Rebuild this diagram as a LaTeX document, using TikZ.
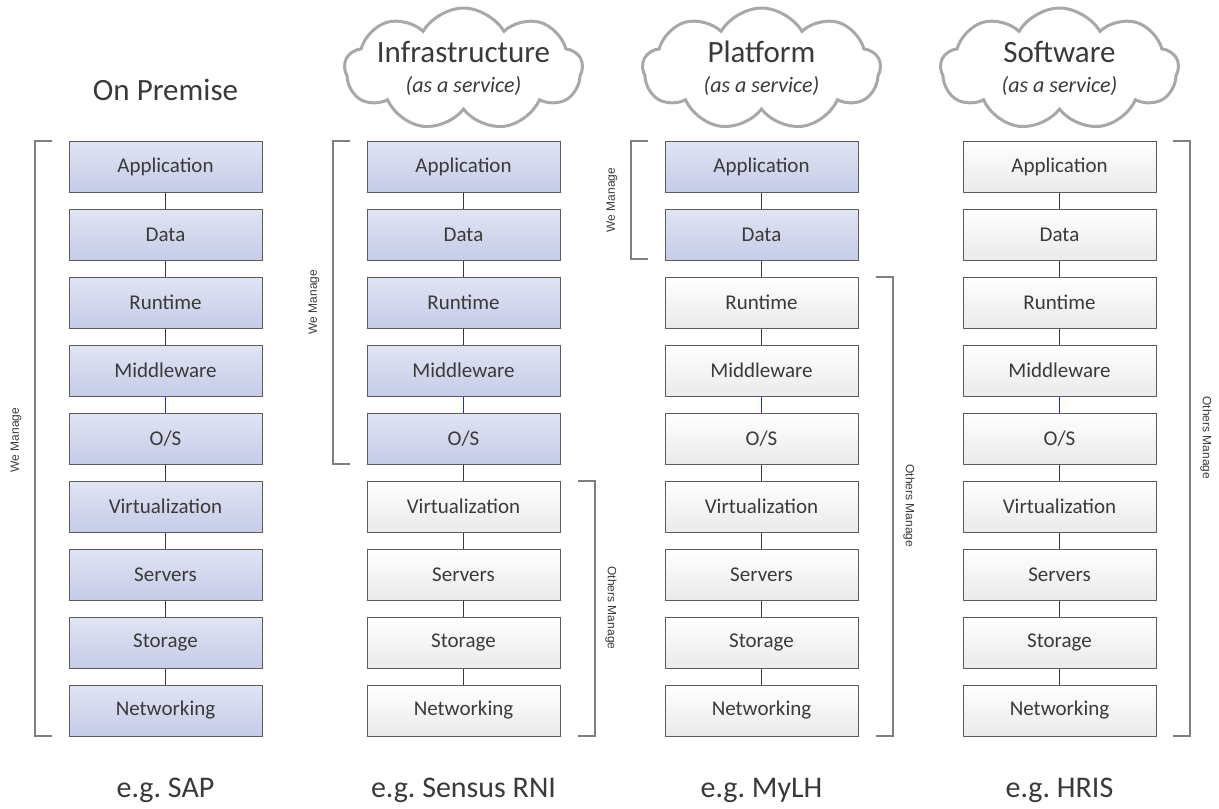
\documentclass[tikz,border=0pt]{standalone}
\usepackage{fontspec}
\setmainfont{Carlito}
\newfontfamily\labelfont{Liberation Sans}
\usetikzlibrary{shapes.symbols,shadows}
\frenchspacing
\definecolor{txt}{HTML}{3A3A3A}
\definecolor{edge}{HTML}{5C5C5C}
\definecolor{bluetop}{HTML}{E0E4F3}
\definecolor{bluebot}{HTML}{C6CCE8}
\definecolor{greytop}{HTML}{FFFFFF}
\definecolor{greybot}{HTML}{EAEAEA}
\definecolor{cloudline}{HTML}{A8A8A8}
\definecolor{bracketline}{HTML}{7F7F7F}
\definecolor{osline}{HTML}{1F2BD6}
\tikzset{
  layer/.style={draw=edge, line width=1pt, minimum width=193pt, minimum height=51pt,
    inner sep=0pt, text=txt, font=\fontsize{21}{24}\selectfont,
    drop shadow={shadow xshift=1.2pt, shadow yshift=-1.2pt, fill=black, opacity=0.25}},
  bluebox/.style={layer, top color=bluetop, bottom color=bluebot},
  whitebox/.style={layer, top color=greytop, bottom color=greybot},
  conn/.style={draw=txt, line width=1pt},
  osconn/.style={draw=osline, line width=1pt},
  bracket/.style={draw=bracketline, line width=1.4pt},
  sidelabel/.style={text=txt, font=\labelfont\fontsize{12}{14}\selectfont, inner sep=0pt},
  heading/.style={text=txt, font=\fontsize{31}{34}\selectfont, inner sep=0pt},
  subheading/.style={text=txt, font=\fontsize{22}{25}\selectfont\itshape, inner sep=0pt},
  example/.style={text=txt, font=\fontsize{30}{33}\selectfont, inner sep=0pt},
  cloudbox/.style={cloud, cloud puffs=9, cloud puff arc=120, aspect=2,
    draw=cloudline, line width=3pt, fill=white, minimum width=238pt, minimum height=122pt}
}
\begin{document}
\begin{tikzpicture}[x=1pt,y=-1pt]
\useasboundingbox[fill=white] (0,0) rectangle (1219,809);

% headings
\node[heading] (h1) at (165.5,90) {On Premise};
\foreach \n/\cx/\title in {2/463.5/Infrastructure, 3/761.5/Platform, 4/1059.5/Software} {
  \node[cloudbox] (cl\n) at (\cx,69) {};
  \node[heading] (h\n) at (\cx,52) {\title};
  \node[subheading] (s\n) at (\cx,86) {(as a service)};
}

% stacks of layers: columns a-d, the first \nb layers of each are managed in-house
\foreach \c/\cx/\nb in {a/165.5/9, b/463.5/5, c/761.5/2, d/1059.5/0} {
  \foreach \t [count=\i] in {Application,Data,Runtime,Middleware,O/S,Virtualization,Servers,Storage,Networking} {
    \ifnum\i>\nb \tikzset{cur/.style=whitebox}\else\tikzset{cur/.style=bluebox}\fi
    \node[cur] (\c\i) at (\cx,{166.5+68*(\i-1)}) {\t};
  }
  \foreach \i in {1,...,8} {
    \pgfmathtruncatemacro\j{\i+1}
    \ifnum\i=4 \tikzset{curc/.style=osconn}\else\tikzset{curc/.style=conn}\fi
    \draw[curc] (\c\i) -- (\c\j);
  }
}

% management brackets
\draw[bracket] (52,141) -- (35,141) -- (35,736) -- (52,736);
\node[sidelabel, rotate=90] (wa) at (16,440) {We Manage};

\draw[bracket] (350,141) -- (333,141) -- (333,464) -- (350,464);
\node[sidelabel, rotate=90] (wb) at (314,302) {We Manage};
\draw[bracket] (578,481) -- (595,481) -- (595,736) -- (578,736);
\node[sidelabel, rotate=-90] (ob) at (611,608) {Others Manage};

\draw[bracket] (648,141) -- (631,141) -- (631,259) -- (648,259);
\node[sidelabel, rotate=90] (wc) at (612,200) {We Manage};
\draw[bracket] (876,277) -- (893,277) -- (893,736) -- (876,736);
\node[sidelabel, rotate=-90] (oc) at (909,506) {Others Manage};

\draw[bracket] (1173,141) -- (1190,141) -- (1190,736) -- (1173,736);
\node[sidelabel, rotate=-90] (od) at (1206,438) {Others Manage};

% examples
\node[example] (e1) at (165.5,790) {e.g. SAP};
\node[example] (e2) at (463.5,790) {e.g. Sensus RNI};
\node[example] (e3) at (761.5,790) {e.g. MyLH};
\node[example] (e4) at (1059.5,790) {e.g. HRIS};
\end{tikzpicture}
\end{document}
